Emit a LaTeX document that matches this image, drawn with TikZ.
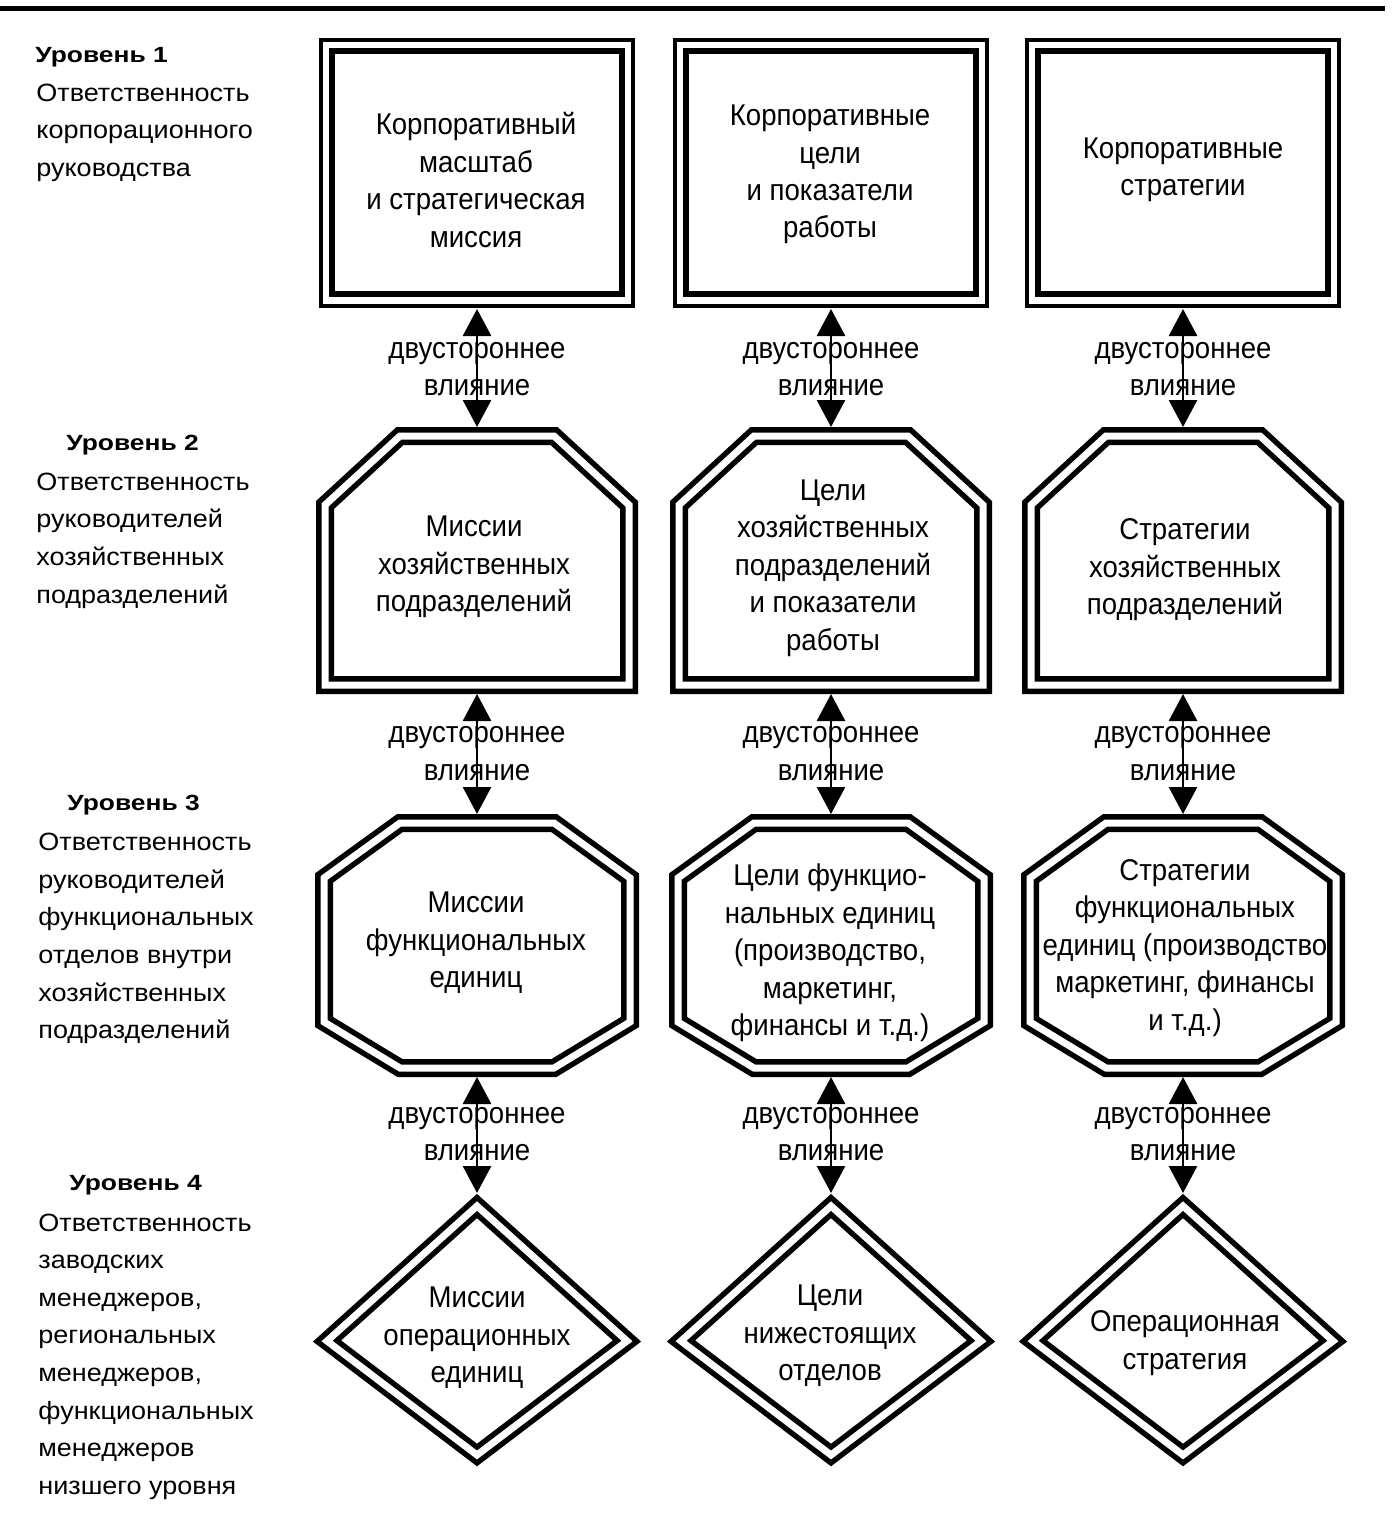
\documentclass[tikz,border=0pt]{standalone}
\usepackage{fontspec}
\setmainfont{Liberation Sans}
\newfontfamily\boxfont[FakeStretch=0.92]{Liberation Sans}
\newfontfamily\sidefont[FakeStretch=1.08]{Liberation Sans}
\newfontfamily\lvlfont[FakeStretch=1.2]{Liberation Sans}
\usetikzlibrary{arrows.meta}
\begin{document}
\begin{tikzpicture}[x=0.5pt,y=-0.5pt,
  boxtxt/.style={font=\boxfont\fontsize{15}{18.7}\selectfont, align=center, inner sep=0},
  sidetxt/.style={font=\sidefont\fontsize{12.5}{18.8}\selectfont, align=left, inner sep=0, anchor=west},
  lvltxt/.style={font=\lvlfont\bfseries\fontsize{11}{13}\selectfont, inner sep=0, anchor=west},
  frame/.style={inner sep=0, outer sep=0},
  dbl/.style={draw, line width=2.75pt, double, double distance=3.5pt, line join=miter},
  infl/.style={line width=1.4pt, {Triangle[length=13.5pt,width=14pt]}-{Triangle[length=13.5pt,width=14pt]}}]
\useasboundingbox (0,0) rectangle (1393,1536);
\draw[line width=2.5pt] (0,9) -- (1385,9);

\foreach \i/\cx in {1/477, 2/831, 3/1183}{
  \node[frame, minimum width=158pt, minimum height=135.5pt] (s1\i) at (\cx,173.5) {};
  \node[frame, minimum width=161pt, minimum height=133.5pt] (s2\i) at (\cx,560.5) {};
  \node[frame, minimum width=162pt, minimum height=131.5pt] (s3\i) at (\cx,945.5) {};
  \node[frame, minimum width=162pt, minimum height=137pt] (s4\i) at (\cx,1330) {};
  \draw[line width=2pt] (\cx-156,40) rectangle (\cx+156,306);
  \draw[line width=3.25pt] (\cx-145,51) rectangle (\cx+145,294);
  \draw[dbl] (\cx-77,436) -- (\cx+77,436) -- (\cx+152,505) -- (\cx+152,685)
     -- (\cx-152,685) -- (\cx-152,505) -- cycle;
  \draw[dbl] (\cx-77,823) -- (\cx+77,823) -- (\cx+153,878) -- (\cx+153,1022)
     -- (\cx+77,1068) -- (\cx-77,1068) -- (\cx-153,1022) -- (\cx-153,878) -- cycle;
  \draw[dbl] (\cx,1206) -- (\cx+150,1341) -- (\cx,1455) -- (\cx-150,1341) -- cycle;
  \draw[infl] (s1\i.south) -- (s2\i.north);
  \draw[infl] (s2\i.south) -- (s3\i.north);
  \draw[infl] (s3\i.south) -- (s4\i.north);
  \node[boxtxt] (a1\i) at (\cx,369) {двустороннее\\влияние};
  \node[boxtxt] (a2\i) at (\cx,753.5) {двустороннее\\влияние};
  \node[boxtxt] (a3\i) at (\cx,1134) {двустороннее\\влияние};
}

% box texts
\node[boxtxt] (t11) at (476,180) {Корпоративный\\масштаб\\и стратегическая\\миссия};
\node[boxtxt] (t12) at (830,174.5) {Корпоративные\\цели\\и показатели\\работы};
\node[boxtxt] (t13) at (1183,170) {Корпоративные\\стратегии};
\node[boxtxt] (t21) at (474,567) {Миссии\\хозяйственных\\подразделений};
\node[boxtxt] (t22) at (833,568) {Цели\\хозяйственных\\подразделений\\и показатели\\работы};
\node[boxtxt] (t23) at (1185,570) {Стратегии\\хозяйственных\\подразделений};
\node[boxtxt] (t31) at (476,943) {Миссии\\функциональных\\единиц};
\node[boxtxt] (t32) at (830,953) {Цели функцио-\\нальных единиц\\(производство,\\маркетинг,\\финансы и т.д.)};
\node[boxtxt] (t33) at (1185,948) {Стратегии\\функциональных\\единиц (производство\\маркетинг, финансы\\и т.д.)};
\node[boxtxt] (t41) at (477,1338) {Миссии\\операционных\\единиц};
\node[boxtxt] (t42) at (830,1336) {Цели\\нижестоящих\\отделов};
\node[boxtxt] (t43) at (1185,1343) {Операционная\\стратегия};

% level labels
\node[lvltxt] (l1) at (35,57) {Уровень 1};
\node[sidetxt] (d1) at (36,132.5) {Ответственность\\корпорационного\\руководства};
\node[lvltxt] (l2) at (66,445) {Уровень 2};
\node[sidetxt] (d2) at (36,540.5) {Ответственность\\руководителей\\хозяйственных\\подразделений};
\node[lvltxt] (l3) at (67,805) {Уровень 3};
\node[sidetxt] (d3) at (38,938.5) {Ответственность\\руководителей\\функциональных\\отделов внутри\\хозяйственных\\подразделений};
\node[lvltxt] (l4) at (69,1185) {Уровень 4};
\node[sidetxt] (d4) at (38,1356.5) {Ответственность\\заводских\\менеджеров,\\региональных\\менеджеров,\\функциональных\\менеджеров\\низшего уровня};
\end{tikzpicture}
\end{document}
